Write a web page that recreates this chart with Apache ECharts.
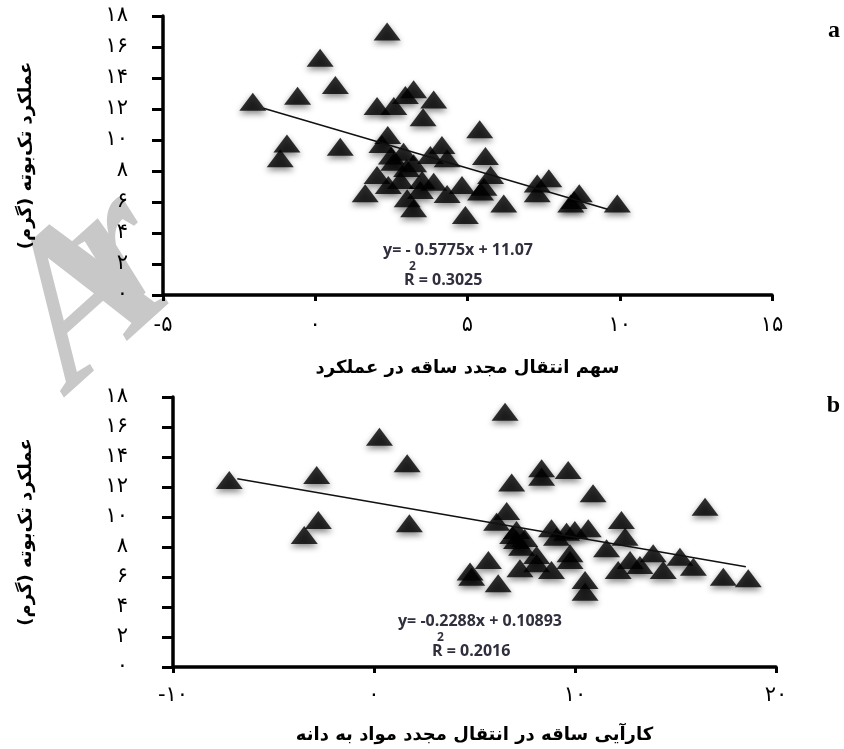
<!DOCTYPE html>
<html>
<head>
<meta charset="utf-8">
<script src="https://cdn.jsdelivr.net/npm/echarts@6/dist/echarts.min.js"></script>
<style>
  html, body { margin: 0; padding: 0; background: #fff; }
  #main { width: 844px; height: 749px; }
</style>
</head>
<body>
<div id="main"></div>
<script>
// panel a: stem remobilization share in yield (x) vs single plant yield (y)
const aX = [2.36, 0.16, 0.66, -0.58, -2.05, 3.23, 2.96, 3.89, 2.03, 2.58,
  3.54, 5.40, 2.38, 2.19, -0.93, -1.15, 0.82, 4.16, 5.59, 2.90,
  3.78, 4.33, 2.58, 3.23, 2.03, 5.76, 2.80, 3.51, 4.82, 5.54,
  1.64, 3.89, 4.33, 5.43, 3.02, 3.23, 6.19, 4.93, 3.45, 7.29,
  7.67, 7.29, 8.67, 8.50, 8.39, 9.92, 2.50, 3.00, 2.40];
const aY = [17.0, 15.3, 13.55, 12.86, 12.47, 13.27, 12.9, 12.62, 12.19, 12.19,
  11.46, 10.7, 10.32, 9.74, 9.78, 8.82, 9.57, 9.68, 8.97, 9.25,
  9.03, 8.82, 8.60, 8.50, 7.74, 7.74, 7.42, 7.42, 7.10, 6.99,
  6.56, 7.31, 6.52, 6.67, 6.24, 5.59, 5.91, 5.16, 6.77, 7.2,
  7.53, 6.56, 6.56, 6.13, 5.91, 5.91, 9.0, 8.2, 7.1];
const aTrend = [[-1.7, 12.05], [9.6, 5.53]];

// panel b: stem remobilization efficiency (x) vs single plant yield (y)
const bX = [-7.2, -2.85, 0.27, 1.65, -2.77, -3.47, 1.76, 6.52, 6.85, 6.6,
  6.10, 4.78, 5.69, 6.18, 8.34, 8.34, 9.66, 10.9, 16.47, 12.31,
  8.83, 9.58, 9.99, 10.66, 7.09, 7.09, 7.34, 12.49, 9.08, 11.57,
  8.09, 9.75, 9.75, 13.89, 15.22, 12.74, 8.09, 7.26, 8.83, 12.15,
  14.39, 15.89, 13.23, 4.86, 10.5, 10.5, 17.38, 18.62, 6.9, 7.5];
const bY = [12.47, 12.8, 15.35, 13.58, 9.8, 8.8, 9.58, 17.02, 12.3, 10.4,
  9.69, 6.36, 7.13, 5.58, 13.25, 12.69, 13.13, 11.58, 10.69, 9.8,
  9.25, 9.02, 9.13, 9.25, 9.13, 8.47, 8.02, 8.69, 8.69, 7.91,
  7.47, 7.58, 7.13, 7.58, 7.35, 7.13, 6.91, 6.58, 6.47, 6.47,
  6.47, 6.69, 6.8, 6.02, 5.8, 5.02, 6.02, 5.91, 8.8, 8.6];
const bTrend = [[-6.8, 12.55], [18.5, 6.68]];

const aXTicks = [-5, 0, 5, 10, 15];
const bXTicks = [-10, 0, 10, 20];
const yTicks = [0, 2, 4, 6, 8, 10, 12, 14, 16, 18];

const yName = 'عملکرد تک‌بوته (گرم)';
const aXName = 'سهم انتقال مجدد ساقه در عملکرد';
const bXName = 'کارآیی ساقه در انتقال مجدد مواد به دانه';

const faDigits = '۰۱۲۳۴۵۶۷۸۹';
function toFa(v) {
  return String(v).replace(/\d/g, d => faDigits[d]);
}
function zip(xs, ys) {
  return xs.map((x, i) => [x, ys[i]]);
}

const persianFont = 'DejaVu Sans';

function makeX(idx, ticks, nameText, gap, labelMargin) {
  return {
    type: 'value',
    gridIndex: idx,
    min: ticks[0],
    max: ticks[ticks.length - 1],
    interval: ticks[1] - ticks[0],
    name: nameText,
    nameLocation: 'middle',
    nameGap: gap,
    nameTextStyle: { fontFamily: persianFont, fontWeight: 'bold', fontSize: 18, color: '#000' },
    axisLine: { onZero: false, lineStyle: { color: '#000', width: 3.5 } },
    axisTick: { show: true, length: 6, lineStyle: { color: '#000', width: 3 } },
    axisLabel: { formatter: toFa, fontFamily: persianFont, fontSize: 21, color: '#000', margin: labelMargin },
    splitLine: { show: false }
  };
}

function makeY(idx, gap, labelMargin) {
  return {
    type: 'value',
    gridIndex: idx,
    min: yTicks[0],
    max: yTicks[yTicks.length - 1],
    interval: 2,
    name: yName,
    nameLocation: 'middle',
    nameRotate: 90,
    nameGap: gap,
    nameTextStyle: { fontFamily: persianFont, fontWeight: 'bold', fontSize: 18, color: '#000' },
    axisLine: { onZero: false, lineStyle: { color: '#000', width: 3.5 } },
    axisTick: { show: true, length: 11, lineStyle: { color: '#000', width: 3 } },
    axisLabel: { formatter: toFa, fontFamily: persianFont, fontSize: 21, color: '#000', margin: labelMargin },
    splitLine: { show: false }
  };
}

const triStyle = {
  color: '#000',
  shadowColor: 'rgba(0,0,0,0.6)',
  shadowBlur: 6,
  shadowOffsetY: 3
};

function scatter(idx, data) {
  return {
    type: 'scatter',
    xAxisIndex: idx,
    yAxisIndex: idx,
    symbol: 'triangle',
    symbolSize: [27, 18],
    itemStyle: triStyle,
    data: data,
    z: 3
  };
}

function trend(idx, data) {
  return {
    type: 'line',
    xAxisIndex: idx,
    yAxisIndex: idx,
    data: data,
    showSymbol: false,
    lineStyle: { color: '#111', width: 1.5 },
    z: 4
  };
}

const eqFont = 'bold 16px "Open Sans"';
const supFont = 'bold 12px "Open Sans"';
const eqColor = '#2f2f3d';
const wmRot = 42 * Math.PI / 180;

const chart = echarts.init(document.getElementById('main'));
chart.setOption({
  backgroundColor: '#fff',
  animation: false,
  grid: [
    { left: 163, top: 16, width: 609, height: 279 },
    { left: 173, top: 397, width: 603, height: 270 }
  ],
  xAxis: [makeX(0, aXTicks, aXName, 64, 20), makeX(1, bXTicks, bXName, 59, 18)],
  yAxis: [makeY(0, 128, 35), makeY(1, 138, 45)],
  series: [
    scatter(0, zip(aX, aY)),
    trend(0, aTrend),
    scatter(1, zip(bX, bY)),
    trend(1, bTrend)
  ],
  graphic: [
    // faint watermark, two glyphs placed separately
    {
      type: 'text', x: 106, y: 428, rotation: wmRot, z: -10, silent: true,
      style: { text: 'A', font: 'italic bold 210px "Liberation Serif"', fill: '#c8c8c8', align: 'left', verticalAlign: 'bottom' }
    },
    {
      type: 'text', x: 155, y: 346, rotation: wmRot, z: -10, silent: true,
      style: { text: 'r', font: 'italic bold 190px "Liberation Serif"', fill: '#c8c8c8', align: 'left', verticalAlign: 'bottom' }
    },
    // panel letters
    { type: 'text', x: 840, y: 31, style: { text: 'a', font: 'bold 24px "Liberation Serif"', fill: '#000', align: 'right', verticalAlign: 'middle' } },
    { type: 'text', x: 840, y: 406, style: { text: 'b', font: 'bold 24px "Liberation Serif"', fill: '#000', align: 'right', verticalAlign: 'middle' } },
    // regression equations
    { type: 'text', x: 458, y: 250, style: { text: 'y= - 0.5775x + 11.07', font: eqFont, fill: eqColor, align: 'center', verticalAlign: 'middle' } },
    { type: 'text', x: 404, y: 280, style: { text: 'R = 0.3025', font: eqFont, fill: eqColor, align: 'left', verticalAlign: 'middle' } },
    { type: 'text', x: 409, y: 267, style: { text: '2', font: supFont, fill: eqColor, align: 'left', verticalAlign: 'middle' } },
    { type: 'text', x: 480, y: 621, style: { text: 'y= -0.2288x + 0.10893', font: eqFont, fill: eqColor, align: 'center', verticalAlign: 'middle' } },
    { type: 'text', x: 432, y: 651, style: { text: 'R = 0.2016', font: eqFont, fill: eqColor, align: 'left', verticalAlign: 'middle' } },
    { type: 'text', x: 437, y: 638, style: { text: '2', font: supFont, fill: eqColor, align: 'left', verticalAlign: 'middle' } }
  ]
});
</script>
</body>
</html>
